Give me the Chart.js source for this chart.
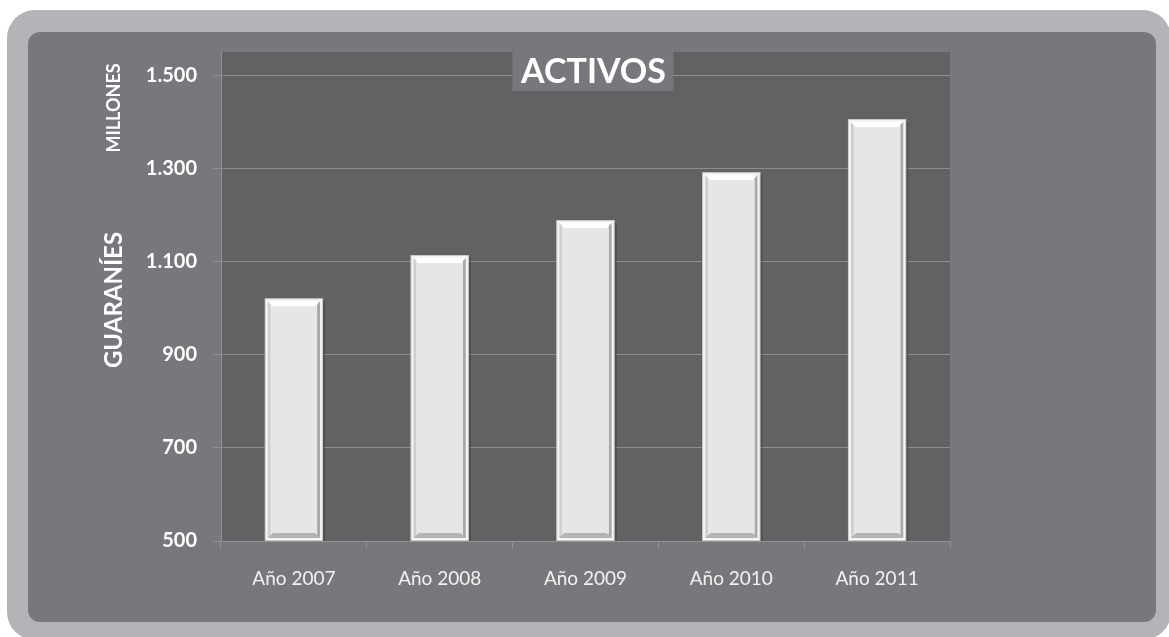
<!DOCTYPE html>
<html lang="es">
<head>
<meta charset="utf-8">
<title>Activos</title>
<script src="https://cdn.jsdelivr.net/npm/chart.js@4.4.1/dist/chart.umd.min.js"></script>
<style>
  html, body { margin: 0; padding: 0; background: #ffffff; overflow: hidden; }
  .frame {
    position: absolute; left: 7px; top: 10px; width: 1164px; height: 630px;
    background: #b3b4b7; border-radius: 28px;
  }
  .panel {
    position: absolute; left: 28px; top: 32px; width: 1128px; height: 590px;
    background: #77787c; border-radius: 12px;
  }
  .panel canvas { display: block; }
</style>
</head>
<body>
<div class="frame"></div>
<div class="panel"><canvas id="activosChart" width="1128" height="590"></canvas></div>
<script>
const years = ['Año 2007', 'Año 2008', 'Año 2009', 'Año 2010', 'Año 2011'];
const activos = [1021, 1114, 1189, 1292, 1406];
const yTicks = [500, 700, 900, 1100, 1300, 1500];
const yMin = 500;
const yMax = 1550;

const FONT = 'Lato, "Open Sans", sans-serif';

// miles con punto: 1500 -> 1.500
function fmt(v) {
  return String(v).replace(/\B(?=(\d{3})+(?!\d))/g, '.');
}

const plotBackground = {
  id: 'plotBackground',
  beforeDraw: function (chart) {
    const a = chart.chartArea;
    const ctx = chart.ctx;
    ctx.save();
    ctx.fillStyle = '#626264';
    ctx.fillRect(a.left, a.top, a.right - a.left, a.bottom - a.top);
    ctx.restore();
  },
};

// relieve de las barras (bisel tipo Excel)
const bevelBars = {
  id: 'bevelBars',
  afterDatasetsDraw: function (chart) {
    const ctx = chart.ctx;
    const area = chart.chartArea;
    chart.getDatasetMeta(0).data.forEach(function (bar) {
      const l = bar.x - bar.width / 2;
      const r = bar.x + bar.width / 2;
      const t = bar.y;
      const b = Math.min(bar.base, area.bottom);
      ctx.save();
      // sombra
      ctx.fillStyle = 'rgba(40,40,40,0.35)';
      ctx.fillRect(r, t + 3, 2, b - t - 3);
      // borde exterior
      ctx.fillStyle = '#c9c9c9';
      ctx.fillRect(l, t, r - l, b - t);
      ctx.fillStyle = '#f6f6f6';
      ctx.fillRect(l + 1, t + 1, r - l - 2, b - t - 2);
      // lado derecho oscuro
      ctx.fillStyle = '#a9a9a9';
      ctx.fillRect(r - 6, t + 3, 3, b - t - 6);
      // lado izquierdo
      ctx.fillStyle = '#cfcfcf';
      ctx.fillRect(l + 3, t + 3, 3, b - t - 6);
      // bisel inferior
      ctx.fillStyle = '#b4b4b4';
      ctx.beginPath();
      ctx.moveTo(l + 3, b - 3);
      ctx.lineTo(r - 3, b - 3);
      ctx.lineTo(r - 8, b - 8);
      ctx.lineTo(l + 8, b - 8);
      ctx.closePath();
      ctx.fill();
      // bisel superior blanco
      ctx.fillStyle = '#ffffff';
      ctx.beginPath();
      ctx.moveTo(l + 3, t + 3);
      ctx.lineTo(r - 3, t + 3);
      ctx.lineTo(r - 8, t + 8);
      ctx.lineTo(l + 8, t + 8);
      ctx.closePath();
      ctx.fill();
      // cara
      ctx.fillStyle = '#e6e6e6';
      ctx.fillRect(l + 6, t + 8, r - l - 12, b - t - 16);
      ctx.restore();
    });
  },
};

// titulo superpuesto y rotulos del eje Y
const overlayText = {
  id: 'overlayText',
  afterDraw: function (chart) {
    const ctx = chart.ctx;
    const a = chart.chartArea;
    ctx.save();
    const cx = (a.left + a.right) / 2 + 7;
    ctx.fillStyle = '#77787c';
    ctx.fillRect(cx - 80, a.top, 161, 39);
    ctx.fillStyle = '#ffffff';
    ctx.font = 'bold 34px ' + FONT;
    ctx.textAlign = 'center';
    ctx.textBaseline = 'middle';
    ctx.fillText('ACTIVOS', cx + 1, a.top + 20);

    ctx.font = 'bold 18px ' + FONT;
    ctx.translate(86, 76);
    ctx.rotate(-Math.PI / 2);
    ctx.fillText('MILLONES', 0, 0);
    ctx.restore();

    ctx.save();
    ctx.fillStyle = '#ffffff';
    ctx.textAlign = 'center';
    ctx.textBaseline = 'middle';
    ctx.font = 'bold 24px ' + FONT;
    ctx.translate(86, 268);
    ctx.rotate(-Math.PI / 2);
    ctx.fillText('GUARANÍES', 0, 0);
    ctx.restore();
  },
};

new Chart(document.getElementById('activosChart').getContext('2d'), {
  type: 'bar',
  data: {
    labels: years,
    datasets: [
      {
        label: 'Activos',
        data: activos,
        backgroundColor: '#e6e6e6',
        borderColor: '#c9c9c9',
        borderWidth: 1,
        barPercentage: 0.8,
        categoryPercentage: 0.5,
      },
    ],
  },
  options: {
    responsive: false,
    animation: false,
    devicePixelRatio: 1,
    layout: {
      padding: { top: 20, right: 206, left: 0, bottom: 0 },
    },
    plugins: {
      legend: { display: false },
      title: { display: false },
      tooltip: { enabled: false },
    },
    scales: {
      x: {
        offset: true,
        afterFit: function (scale) {
          scale.height = 81;
          scale.paddingLeft = 0;
          scale.paddingRight = 0;
        },
        grid: {
          offset: true,
          drawOnChartArea: false,
          drawTicks: true,
          tickLength: 7,
          color: '#939395',
        },
        border: { color: '#939395', width: 1 },
        ticks: {
          color: '#f2f2f2',
          padding: 19,
          font: { family: FONT, size: 19 },
        },
      },
      y: {
        min: yMin,
        max: yMax,
        afterFit: function (scale) {
          scale.width = 193;
          scale.paddingTop = 0;
          scale.paddingBottom = 0;
        },
        afterBuildTicks: function (scale) {
          scale.ticks = yTicks.map(function (v) {
            return { value: v };
          });
        },
        grid: {
          color: '#8e8e90',
          lineWidth: 1,
          drawTicks: true,
          tickLength: 8,
        },
        border: { color: '#939395', width: 1 },
        ticks: {
          color: '#ffffff',
          padding: 16,
          font: { family: FONT, size: 20, weight: 'bold' },
          callback: function (v) {
            return fmt(v);
          },
        },
      },
    },
  },
  plugins: [plotBackground, bevelBars, overlayText],
});
</script>
</body>
</html>
